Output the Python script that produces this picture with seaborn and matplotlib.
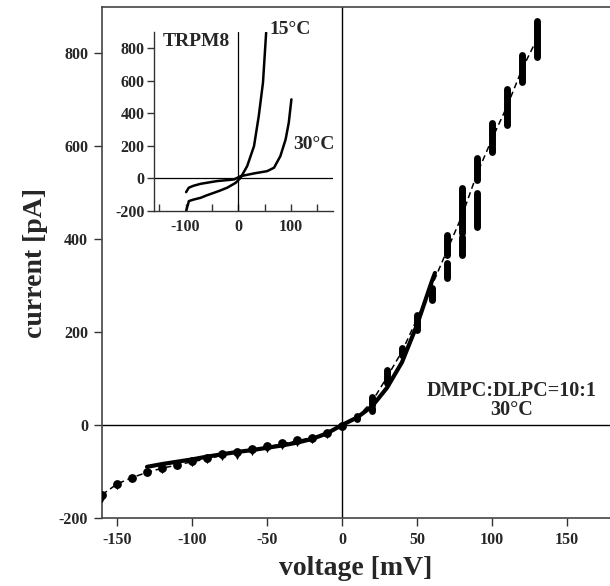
import numpy as np
import pandas as pd
import matplotlib
matplotlib.use("Agg")
import matplotlib.pyplot as plt
import seaborn as sns

sns.set_theme(style="white")
plt.rcParams['font.family'] = ['Liberation Serif', 'DejaVu Serif']
plt.rcParams['font.weight'] = 'bold'
plt.rcParams['axes.unicode_minus'] = False

# ---------------- main panel data ----------------
# dashed line through the measured points
dash_v = [-160, -150, -140, -130, -120, -110, -100, -90, -80, -70, -60, -50, -40, -30,
          -20, -10, 0, 10, 20, 30, 40, 50, 60, 70, 80, 90, 100, 110, 120, 130]
dash_i = [-150, -127, -113, -102, -93, -86, -79, -73, -65, -59, -53, -47, -41, -34,
          -27, -18, -3, 16, 50, 103, 158, 228, 300, 375, 450, 540, 615, 685, 765, 830]

# solid fit curve
fit_v = [-130, -120, -110, -100, -90, -80, -70, -60, -50, -40, -30, -20, -10, 0,
         10, 20, 30, 40, 50, 60, 62]
fit_i = [-90, -84, -79, -74, -68, -63, -58, -54, -49, -44, -38, -30, -18, 0,
         16, 40, 80, 135, 215, 310, 327]

# measured points, negative voltages (two series)
neg_v = [-160, -150, -140, -130, -120, -110, -100, -90, -80, -70, -60, -50, -40, -30, -20, -10, 0]
neg_a = [-150, -127, -113, -101, -92, -85, -78, -72, -62, -57, -51, -45, -38, -32, -27, -18, -3]
neg_b = [-160, -131, -116, -104, -97, -89, -82, -76, -68, -67, -58, -52, -46, -39, -32, -21, -7]

# measured clusters, positive voltages (vertical spread of repeated sweeps)
pos_v = [10, 20, 30, 40, 50, 60, 70, 80, 90, 100, 110, 120, 130]
pos_lo = [12, 44, 97, 150, 205, 269, 366, 413, 527, 588, 645, 738, 792]
pos_hi = [20, 61, 118, 165, 237, 295, 408, 509, 575, 650, 722, 796, 868]
low_v = [20, 30, 60, 70, 80, 90]
low_lo = [30, 90, 272, 316, 366, 426]
low_hi = [36, 96, 282, 348, 404, 500]

# ---------------- inset data (TRPM8) ----------------
c15_v = [-98.7, -93.7, -85, -71.5, -60, -46, -35, -21, -5, 4.4, 17, 30, 39, 47, 53]
c15_i = [-197, -139, -130, -119, -104, -88, -75, -57, -27, 4, 76, 199, 384, 589, 896]
c30_v = [-99, -94, -85, -71.5, -55, -40, -20, -8, 4.4, 30, 55, 68, 80, 90, 96, 101]
c30_i = [-84, -57, -45, -33, -24, -16, -10, -6, 14, 31, 45, 66, 137, 240, 343, 486]

W, H = 610, 586
fig = plt.figure(figsize=(W / 100, H / 100), dpi=100)
ax = fig.add_axes([102 / W, (H - 518) / H, 1 - 102 / W, (518 - 7) / H])

ax.axhline(0, color='black', lw=1.0, zorder=1)
ax.axvline(0, color='black', lw=1.0, zorder=1)

sns.lineplot(x=dash_v, y=dash_i, ax=ax, color='black', lw=1.1, linestyle=(0, (4, 2.5)),
             sort=False, zorder=3)
sns.lineplot(x=fit_v, y=fit_i, ax=ax, color='black', lw=3.0, sort=False, zorder=4)
sns.scatterplot(x=neg_v, y=neg_a, ax=ax, color='black', marker='o', s=40,
                edgecolor='black', linewidth=0, zorder=5)
sns.scatterplot(x=neg_v, y=neg_b, ax=ax, color='black', marker='v', s=28,
                edgecolor='black', linewidth=0, zorder=5)
ax.vlines(pos_v, pos_lo, pos_hi, color='black', lw=5.0, capstyle='round', zorder=5)
ax.vlines(low_v, low_lo, low_hi, color='black', lw=5.0, capstyle='round', zorder=5)

ax.set_xlim(-160, 178.7)
ax.set_ylim(-200, 899)
ax.set_xticks([-150, -100, -50, 0, 50, 100, 150])
ax.set_yticks([-200, 0, 200, 400, 600, 800])
ax.tick_params(axis='both', direction='out', length=6, width=1, color='#333333',
               labelsize=11.5, bottom=True, left=True, pad=4)
for lab in ax.get_xticklabels() + ax.get_yticklabels():
    lab.set_fontweight('bold')
for s in ['right']:
    ax.spines[s].set_visible(False)
for s in ['left', 'bottom', 'top']:
    ax.spines[s].set_color('#444444')
    ax.spines[s].set_linewidth(1.2)

ax.set_xlabel('voltage [mV]', fontsize=20, fontweight='bold', labelpad=6)
ax.set_ylabel('current [pA]', fontsize=20, fontweight='bold', labelpad=8)

ax.text(113, 53, 'DMPC:DLPC=10:1\n30°C', ha='center', va='center', fontsize=14.5,
        fontweight='bold', multialignment='center', linespacing=0.95, zorder=6)

# ---------------- inset ----------------
ia = fig.add_axes([154 / W, (H - 211) / H, (333 - 154) / W, (211 - 32) / H])
ia.patch.set_alpha(0)
ia.axhline(0, color='black', lw=0.9)
ia.axvline(0, color='black', lw=0.9)
sns.lineplot(x=c15_v, y=c15_i, ax=ia, color='black', lw=1.8, sort=False)
sns.lineplot(x=c30_v, y=c30_i, ax=ia, color='black', lw=1.8, sort=False)
ia.set_xlim(-160, 180)
ia.set_ylim(-200, 900)
ia.set_xticks([-100, 0, 100])
ia.set_xticks([-150, -50, 50, 150], minor=True)
ia.set_yticks([-200, 0, 200, 400, 600, 800])
ia.tick_params(axis='x', which='both', direction='in', length=5, width=1, color='#333333',
               labelsize=11.5, bottom=True, pad=6)
ia.tick_params(axis='y', direction='out', length=5, width=1, color='#333333',
               labelsize=11.5, left=True, pad=2)
for lab in ia.get_xticklabels() + ia.get_yticklabels():
    lab.set_fontweight('bold')
for s in ['right', 'top']:
    ia.spines[s].set_visible(False)
for s in ['left', 'bottom']:
    ia.spines[s].set_color('#333333')
    ia.spines[s].set_linewidth(1.0)
ia.set_xlabel('')
ia.set_ylabel('')
ia.text(-144, 843, 'TRPM8', ha='left', va='center', fontsize=14, fontweight='bold')
ia.text(60, 917, '15°C', ha='left', va='center', fontsize=14, fontweight='bold', clip_on=False)
ia.text(105, 209, '30°C', ha='left', va='center', fontsize=14, fontweight='bold')

fig.savefig('out.png', dpi=100)
